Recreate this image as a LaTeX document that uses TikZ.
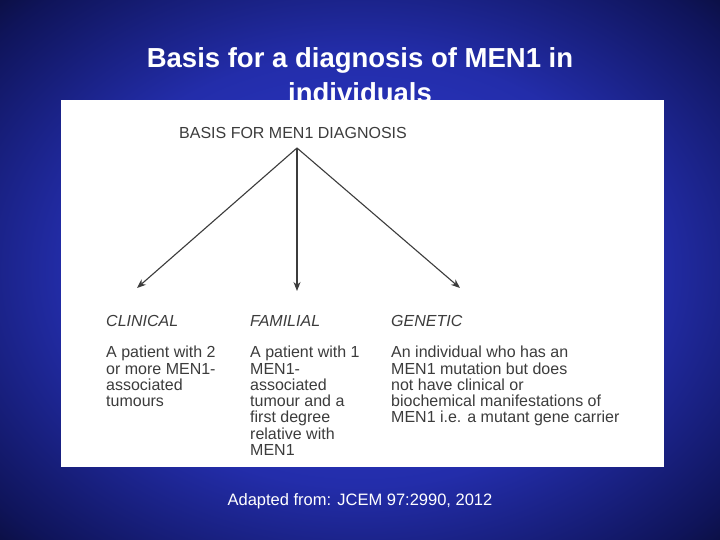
\documentclass[tikz,border=0pt]{standalone}
\usepackage{fontspec}
\usetikzlibrary{arrows.meta}
\setmainfont{Liberation Sans}
\definecolor{bgblue}{RGB}{48,60,215}
\definecolor{bgmid}{RGB}{35,45,170}
\definecolor{bgdark}{RGB}{15,20,90}
\definecolor{txtgray}{RGB}{60,60,60}
\pgfdeclareradialshading{bgrad}{\pgfpoint{0bp}{0bp}}{color(0bp)=(bgblue); color(20bp)=(bgmid); color(33bp)=(bgdark); color(44bp)=(black); color(50bp)=(black)}
\begin{document}
\begin{tikzpicture}[x=1pt,y=-1pt,
  body/.style={anchor=north west,align=left,text=txtgray,font=\fontsize{16}{16.3}\selectfont,inner sep=0pt},
  head/.style={anchor=west,text=txtgray,font=\fontsize{16}{16}\selectfont\itshape,inner sep=0pt},
  arr/.style={draw=txtgray,line width=1.1pt,-{Stealth[length=9pt,width=7pt]}}]
\useasboundingbox (0,0) rectangle (720,540);
\shade[shading=bgrad] (0,0) rectangle (720,540);
\node[text=white,font=\bfseries\fontsize{27.5}{35}\selectfont,align=center] (title) at (360,75) {Basis for a diagnosis of MEN1 in\\individuals};
\fill[white] (61,100) rectangle (664,467);
\node[text=txtgray,font=\fontsize{16}{16}\selectfont,anchor=west,inner sep=0pt] (top) at (179,133) {BASIS FOR MEN1 DIAGNOSIS};
\coordinate (o) at (297,148);
\coordinate (a1) at (137,288);
\coordinate (a2) at (297,291);
\coordinate (a3) at (460,288);
\draw[arr] (o) -- (a1);
\draw[arr] (o) -- (a2);
\draw[arr] (o) -- (a3);
\node[head] (h1) at (106,321) {CLINICAL};
\node[head] (h2) at (250,321) {FAMILIAL};
\node[head] (h3) at (391,321) {GENETIC};
\node[body] (b1) at (106,346) {A patient with 2\\or more MEN1-\\associated\\tumours};
\node[body] (b2) at (250,346) {A patient with 1\\MEN1-\\associated\\tumour and a\\first degree\\relative with\\MEN1};
\node[body] (b3) at (391,346) {An individual who has an\\MEN1 mutation but does\\not have clinical or\\biochemical manifestations of\\MEN1 i.e. a mutant gene carrier};
\node[text=white,font=\fontsize{16.5}{18}\selectfont] (foot) at (360,501) {Adapted from: JCEM 97:2990, 2012};
\end{tikzpicture}
\end{document}
